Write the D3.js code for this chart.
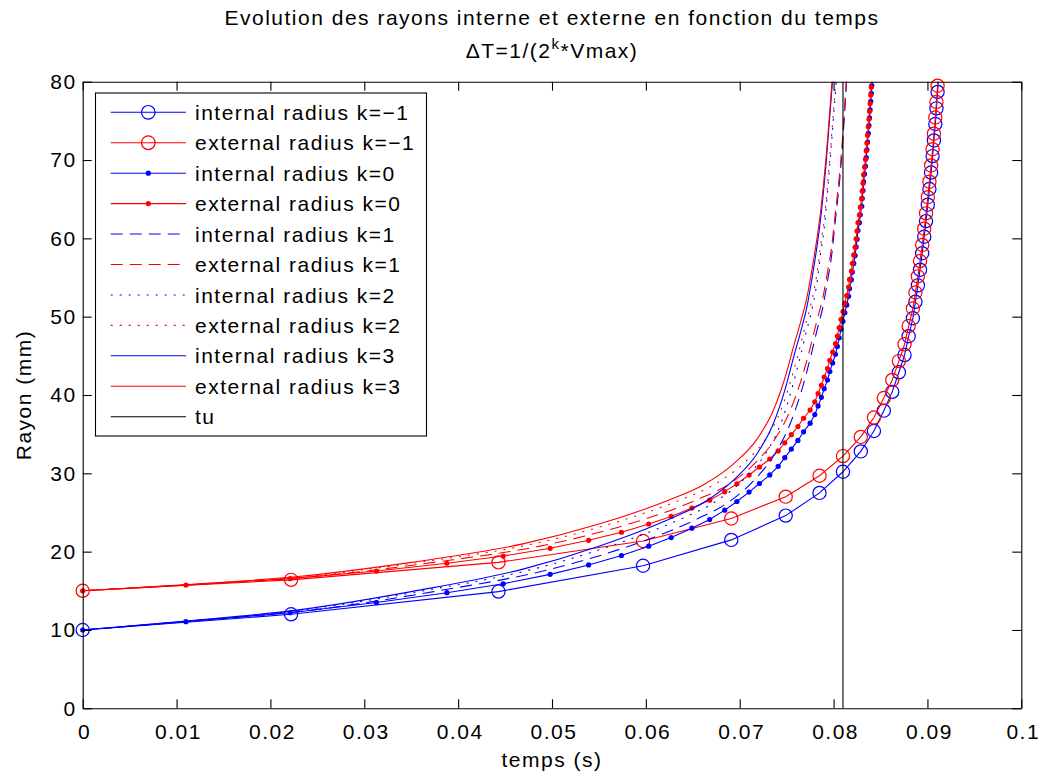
<!DOCTYPE html>
<html><head><meta charset="utf-8">
<script src="https://cdn.jsdelivr.net/npm/d3@7"></script>
<style>
body{margin:0;background:#fff}
svg text{font-family:"Liberation Sans",Arial,Helvetica,sans-serif;fill:#000}
</style>
</head><body><svg id="c" width="1039" height="778"></svg>
<script>
// ---------------- DATA ----------------
// k = -1 (circles)
const timeKm1 = [0, 0.0222, 0.0443, 0.0597, 0.0691, 0.0749, 0.0785, 0.0810, 0.0829, 0.0843, 0.08535, 0.08625, 0.08696, 0.08756, 0.0880, 0.08845, 0.08872, 0.08898, 0.08921, 0.08944, 0.08966, 0.08985, 0.09004, 0.09021, 0.09039, 0.09055, 0.09069, 0.09084, 0.09096, 0.09108, 0.09120];
const innerKm1 = [10, 12.0, 14.9, 18.2, 21.5, 24.6, 27.5, 30.2, 32.8, 35.4, 38.0, 40.4, 42.9, 45.1, 47.5, 49.8, 51.9, 54.0, 56.0, 58.1, 60.2, 62.2, 64.3, 66.3, 68.4, 70.5, 72.5, 74.6, 76.6, 78.7, 80.8];
const outerKm1 = [15, 16.40, 18.63, 21.36, 24.23, 27.02, 29.69, 32.20, 34.65, 37.12, 39.61, 41.92, 44.33, 46.47, 48.80, 51.04, 53.09, 55.15, 57.10, 59.16, 61.23, 63.19, 65.26, 67.24, 69.31, 71.38, 73.36, 75.43, 77.41, 79.49, 81.57];

// k = 0 (dots)
const timeK0 = [0, 0.0110, 0.0221, 0.0313, 0.0388, 0.0448, 0.0498, 0.0539, 0.0574, 0.0603, 0.0627, 0.0649, 0.0668, 0.0684, 0.0697, 0.0710, 0.0721, 0.0732, 0.0741, 0.0748, 0.0755, 0.0762, 0.0768, 0.0775,
  0.0780, 0.07835, 0.0787, 0.0790, 0.07935, 0.0796, 0.0799, 0.0802, 0.0804, 0.0806, 0.0808, 0.0810, 0.0812, 0.0814, 0.0816, 0.0817, 0.0819, 0.0820, 0.08215, 0.0823, 0.0824, 0.0825, 0.0826, 0.08275, 0.08285, 0.0830, 0.08305, 0.08314, 0.0832, 0.0833, 0.0834, 0.08348, 0.08355, 0.08362, 0.0837, 0.08377, 0.08383, 0.08389, 0.08396, 0.08402, 0.08407, 0.08413];
const innerK0 = [10, 11.06, 12.2, 13.5, 14.76, 15.9, 17.1, 18.3, 19.5, 20.7, 21.8, 23.0, 24.1, 25.3, 26.4, 27.6, 28.7, 29.8, 30.9, 32.0, 33.1, 34.2, 35.3, 36.4,
  37.5, 38.6, 39.7, 40.8, 41.9, 43.0, 44.1, 45.2, 46.2, 47.3, 48.4, 49.4, 50.5, 51.5, 52.6, 53.6, 54.7, 55.7, 56.8, 57.8, 58.9, 59.9, 61.0, 62.0, 63.0, 64.1, 65.1, 66.1, 67.2, 68.2, 69.2, 70.3, 71.3, 72.3, 73.4, 74.4, 75.4, 76.4, 77.5, 78.5, 79.5, 80.5];
const outerK0 = [15, 15.73, 16.55, 17.53, 18.52, 19.44, 20.43, 21.45, 22.48, 23.53, 24.50, 25.57, 26.57, 27.66, 28.67, 29.78, 30.80, 31.83, 32.86, 33.90, 34.94, 35.98, 37.03, 38.08,
  39.13, 40.19, 41.24, 42.30, 43.37, 44.43, 45.49, 46.56, 47.53, 48.60, 49.67, 50.65, 51.72, 52.70, 53.78, 54.75, 55.83, 56.81, 57.89, 58.87, 59.95, 60.93, 62.02, 63.00, 63.98, 65.07, 66.05, 67.04, 68.12, 69.11, 70.10, 71.18, 72.17, 73.16, 74.25, 75.24, 76.22, 77.21, 78.30, 79.29, 80.28, 81.27];

// k = 1, 2, 3 (dense lines, read at these radii)
const innerFine = [10, 11.2, 12.6, 14.9, 17.8, 20.7, 22.9, 24.2, 26.3, 29.2, 32.6, 36.4, 40.6, 45.1, 48.1, 51.5, 54.9, 57.9, 61.3, 69.5, 80.3];
const outerFine = [15, 15.83, 16.85, 18.63, 21.02, 23.53, 25.48, 26.66, 28.58, 31.27, 34.46, 38.08, 42.11, 46.47, 49.38, 52.70, 56.03, 58.97, 62.31, 70.39, 81.07];
const timeK1 = [0, 0.0121, 0.0248, 0.0374, 0.0500, 0.0582, 0.0631, 0.0655, 0.0688, 0.0716, 0.0738, 0.0754, 0.0766, 0.0776, 0.0782, 0.0789, 0.0794, 0.0798, 0.0801, 0.0808, 0.0814];
const timeK2 = [0, 0.0118, 0.0238, 0.0358, 0.0481, 0.0562, 0.0612, 0.0638, 0.0673, 0.0704, 0.0728, 0.0744, 0.0755, 0.0765, 0.0771, 0.0778, 0.0783, 0.0786, 0.0790, 0.0796, 0.0803];
const timeK3 = [0, 0.0116, 0.0232, 0.0350, 0.0470, 0.0550, 0.0600, 0.0626, 0.0662, 0.0694, 0.0719, 0.0736, 0.0748, 0.0758, 0.0765, 0.0772, 0.0777, 0.0781, 0.0785, 0.0792, 0.0799];

// tu
const tuTime = [0.081, 0.081];
const tuRadius = [0, 80];

// axes
const xTicks = [0, 0.01, 0.02, 0.03, 0.04, 0.05, 0.06, 0.07, 0.08, 0.09, 0.1];
const xTickLabels = ["0", "0.01", "0.02", "0.03", "0.04", "0.05", "0.06", "0.07", "0.08", "0.09", "0.1"];
const yTicks = [0, 10, 20, 30, 40, 50, 60, 70, 80];
const seriesLabels = ["internal radius k=\u22121", "external radius k=\u22121", "internal radius k=0", "external radius k=0",
  "internal radius k=1", "external radius k=1", "internal radius k=2", "external radius k=2",
  "internal radius k=3", "external radius k=3", "tu"];

// ---------------- DRAW ----------------
const BLUE = "#0000ff", RED = "#ff0000", BLACK = "#000000";
const FS = 21, LS = "1.5px";
const svg = d3.select("#c");
const x = d3.scaleLinear().domain([0, 0.1]).range([82.7, 1021.3]);
const y = d3.scaleLinear().domain([0, 80]).range([708.3, 81.7]);

const zip = (t, r) => t.map((v, i) => [v, r[i]]);
const series = [
  {d: zip(timeKm1, innerKm1), c: BLUE, m: "circle"},
  {d: zip(timeKm1, outerKm1), c: RED, m: "circle"},
  {d: zip(timeK0, innerK0), c: BLUE, m: "dot"},
  {d: zip(timeK0, outerK0), c: RED, m: "dot"},
  {d: zip(timeK1, innerFine), c: BLUE, dash: "12,7", smooth: true},
  {d: zip(timeK1, outerFine), c: RED, dash: "12,7", smooth: true},
  {d: zip(timeK2, innerFine), c: BLUE, dash: "2,7", smooth: true},
  {d: zip(timeK2, outerFine), c: RED, dash: "2,7", smooth: true},
  {d: zip(timeK3, innerFine), c: BLUE, smooth: true},
  {d: zip(timeK3, outerFine), c: RED, smooth: true},
  {d: zip(tuTime, tuRadius), c: BLACK}
];

svg.append("rect").attr("width", 1039).attr("height", 778).attr("fill", "#fff");
svg.append("clipPath").attr("id", "clip").append("rect")
  .attr("x", x(0)).attr("y", y(80)).attr("width", x(0.1) - x(0)).attr("height", y(0) - y(80));

const plot = svg.append("g");
series.forEach(s => {
  const line = d3.line().x(d => x(d[0])).y(d => y(d[1]))
    .curve(s.smooth ? d3.curveMonotoneX : d3.curveLinear);
  plot.append("path").attr("d", line(s.d)).attr("clip-path", "url(#clip)")
    .attr("fill", "none").attr("stroke", s.c).attr("stroke-width", 1.1)
    .attr("stroke-dasharray", s.dash || null);
  const pts = s.d.filter(d => d[1] <= 80);
  if (s.m === "circle") {
    plot.selectAll(null).data(pts).enter().append("circle")
      .attr("cx", d => x(d[0])).attr("cy", d => y(d[1])).attr("r", 6.6)
      .attr("fill", "none").attr("stroke", s.c).attr("stroke-width", 1.2);
  } else if (s.m === "dot") {
    plot.selectAll(null).data(pts).enter().append("circle")
      .attr("cx", d => x(d[0])).attr("cy", d => y(d[1])).attr("r", 2.6)
      .attr("fill", s.c);
  }
});

// axes
function styleAxis(g) {
  g.selectAll("path.domain").attr("stroke", "#000").attr("stroke-width", 1.1);
  g.selectAll(".tick line").attr("stroke", "#000").attr("stroke-width", 1.1);
  g.selectAll("text").attr("font-size", FS).style("letter-spacing", LS)
    .attr("font-family", "Liberation Sans, Arial, sans-serif").attr("fill", "#000");
}
const gx = svg.append("g").attr("transform", `translate(0,${y(0)})`)
  .call(d3.axisBottom(x).tickValues(xTicks).tickFormat((d, i) => xTickLabels[i])
    .tickSizeInner(-9).tickSizeOuter(0).tickPadding(16));
styleAxis(gx);
gx.selectAll("text").attr("dx", "0.07em");
const gxt = svg.append("g").attr("transform", `translate(0,${y(80)})`)
  .call(d3.axisTop(x).tickValues(xTicks).tickFormat("").tickSizeInner(-9).tickSizeOuter(0));
styleAxis(gxt);
const gy = svg.append("g").attr("transform", `translate(${x(0)},0)`)
  .call(d3.axisLeft(y).tickValues(yTicks).tickFormat(d3.format("d"))
    .tickSizeInner(-9).tickSizeOuter(0).tickPadding(6));
styleAxis(gy);
const gyr = svg.append("g").attr("transform", `translate(${x(0.1)},0)`)
  .call(d3.axisRight(y).tickValues(yTicks).tickFormat("").tickSizeInner(-9).tickSizeOuter(0));
styleAxis(gyr);

// titles & labels
const cx = (x(0) + x(0.1)) / 2;
const txt = (xx, yy) => svg.append("text").attr("x", xx).attr("y", yy).attr("font-size", FS)
  .style("letter-spacing", LS).attr("text-anchor", "middle");
txt(cx, 25).text("Evolution des rayons interne et externe en fonction du temps");
const t2 = txt(cx, 58);
t2.append("tspan").text("\u0394T=1/(2");
t2.append("tspan").attr("font-size", 15).attr("dy", -9).text("k");
t2.append("tspan").attr("dy", 9).text("*Vmax)");
txt(cx, 767).text("temps (s)");
svg.append("text").attr("transform", `translate(31,${(y(0) + y(80)) / 2}) rotate(-90)`)
  .attr("font-size", FS).style("letter-spacing", LS).attr("text-anchor", "middle").text("Rayon (mm)");

// legend
const lg = svg.append("g");
lg.append("rect").attr("x", 95.5).attr("y", 93).attr("width", 331).attr("height", 343)
  .attr("fill", "#fff").attr("stroke", "#000").attr("stroke-width", 1.1);
seriesLabels.forEach((lab, i) => {
  const s = series[i];
  const cy = 112.3 + i * 30.44;
  lg.append("line").attr("x1", 110.7).attr("x2", 186).attr("y1", cy).attr("y2", cy)
    .attr("stroke", s.c).attr("stroke-width", 1.1).attr("stroke-dasharray", s.dash || null);
  if (s.m === "circle") lg.append("circle").attr("cx", 148.3).attr("cy", cy).attr("r", 6.8)
    .attr("fill", "none").attr("stroke", s.c).attr("stroke-width", 1.2);
  if (s.m === "dot") lg.append("circle").attr("cx", 148.3).attr("cy", cy).attr("r", 2.6).attr("fill", s.c);
  lg.append("text").attr("x", 195).attr("y", cy).attr("dy", "0.36em").attr("font-size", FS)
    .style("letter-spacing", LS).text(lab);
});
</script>
</body></html>
